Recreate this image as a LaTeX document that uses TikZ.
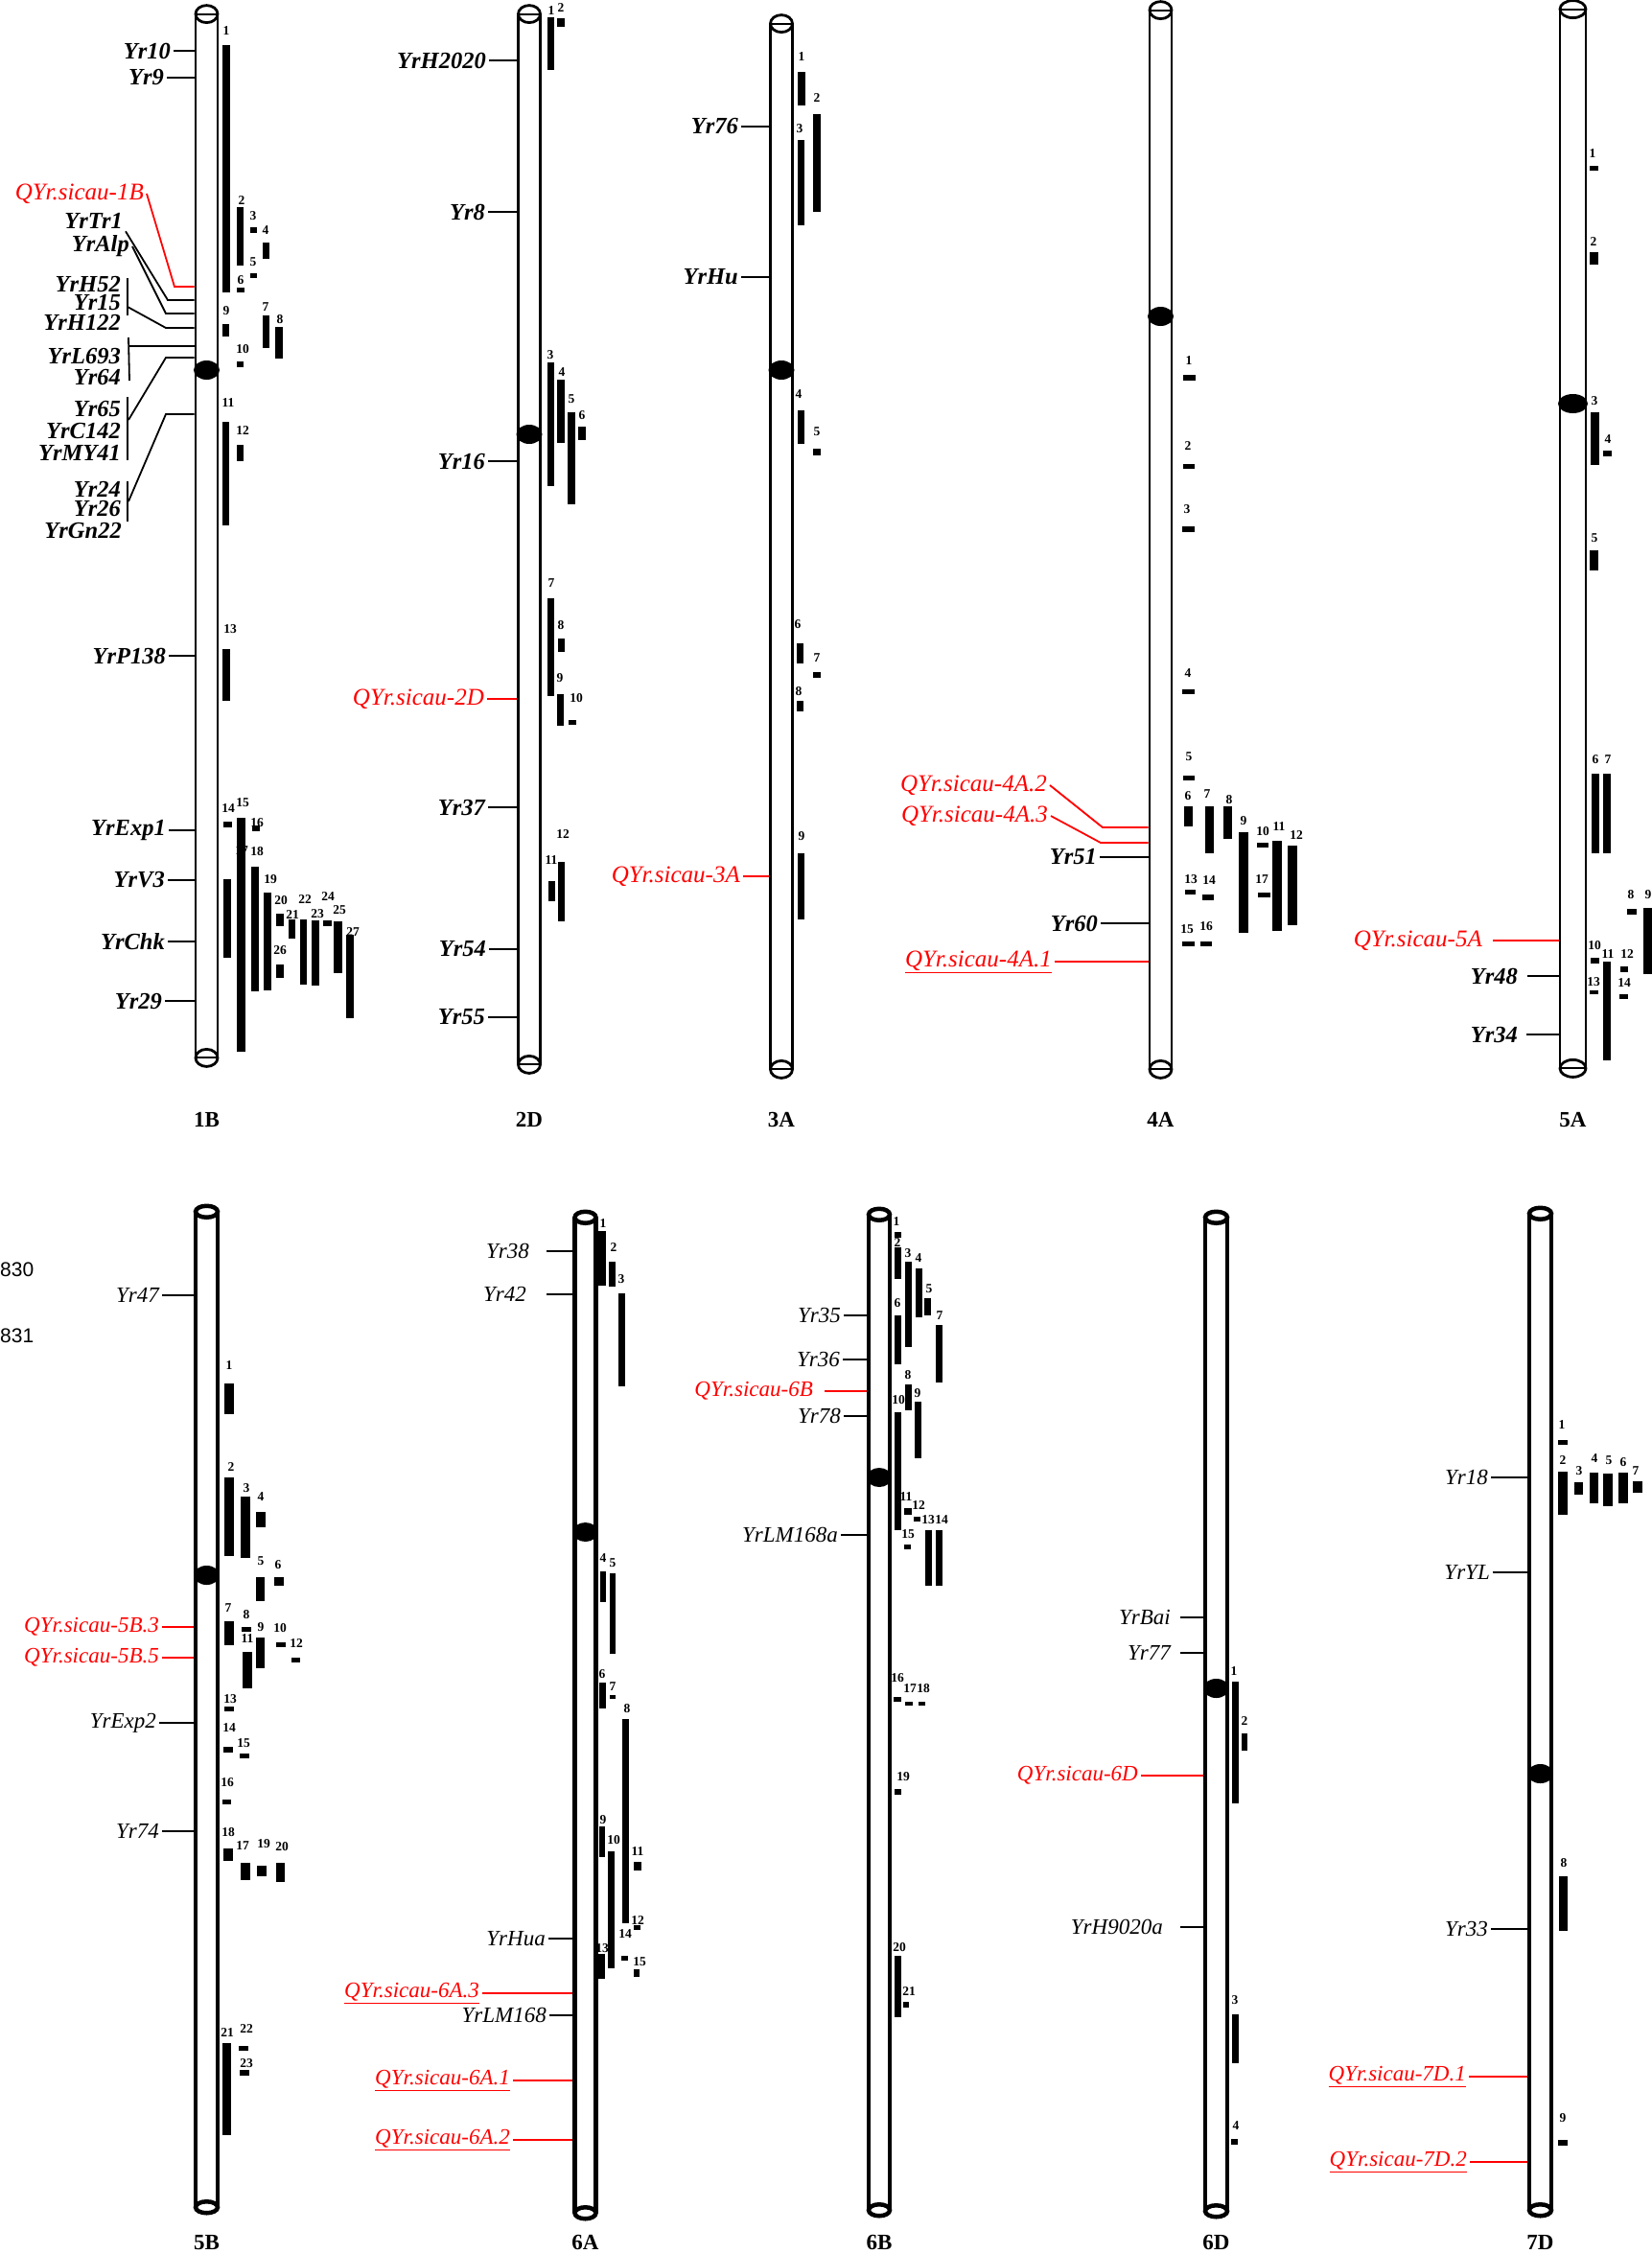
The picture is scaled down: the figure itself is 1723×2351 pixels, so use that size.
\documentclass[tikz,border=0pt]{standalone}
\usepackage{fontspec}
\setmainfont{Liberation Serif}
\newfontfamily\sansnum{Liberation Sans}

\begin{document}
\begin{tikzpicture}[
  x=1pt, y=-1pt,
  chromA/.style={draw, line width=2.8pt, fill=white, inner sep=0pt},
  chromB/.style={draw, line width=4.5pt, fill=white, inner sep=0pt},
  mk/.style={line width=1.8pt},
  mkB/.style={line width=1.5pt},
  qline/.style={draw=red, line width=1.8pt},
  gene/.style={anchor=east, inner sep=3pt, font=\fontsize{24.5}{26}\selectfont\bfseries\itshape},
  geneB/.style={anchor=east, inner sep=3pt, font=\fontsize{23}{25}\selectfont\itshape},
  qtl/.style={anchor=east, inner sep=3pt, text=red, font=\fontsize{25}{27}\selectfont\itshape},
  qtlB/.style={anchor=east, inner sep=3pt, text=red, font=\fontsize{23}{25}\selectfont\itshape},
  num/.style={inner sep=0pt, font=\fontsize{13.5}{14}\selectfont\bfseries},
  cname/.style={font=\fontsize{23}{24}\selectfont\bfseries},
]
\useasboundingbox (0,0) rectangle (1723,2351);

% chromosomes, upper row
\foreach \cn/\cx/\ct/\cb/\cm/\cw in {1B/215.5/16/1102/386/23, 2D/552/16/1109/453/23,
    3A/815/26/1114/386/23, 4A/1210.5/12/1114/330/23, 5A/1640.5/11/1113/421/27}{
  \pgfmathsetmacro\ch{\cb-\ct}
  \pgfmathsetmacro\cy{(\ct+\cb)/2}
  \node[chromA, minimum width=\cw, minimum height=\ch] (c\cn) at (\cx,\cy) {};
  \draw[chromA] (c\cn.north) ellipse [x radius=\cw/2, y radius=9];
  \draw[chromA] (c\cn.south) ellipse [x radius=\cw/2, y radius=9];
  \draw[line width=2pt] (c\cn.north west) -- (c\cn.north east) (c\cn.south west) -- (c\cn.south east);
  \fill (\cx,\cm) ellipse [x radius=\cw/2+2, y radius=10];
  \node[cname] (l\cn) at (\cx,1168) {\cn};
}

% chromosomes, lower row
\foreach \cn/\cx/\ct/\cb/\cm/\cw in {5B/215.5/1266/2300/1643/23, 6A/610.5/1272/2306/1598/22,
    6B/917/1269/2303/1541/22, 6D/1268.5/1272/2304/1761/23, 7D/1606.5/1268/2303/1850/23}{
  \pgfmathsetmacro\ch{\cb-\ct}
  \pgfmathsetmacro\cy{(\ct+\cb)/2}
  \node[chromB, minimum width=\cw, minimum height=\ch] (c\cn) at (\cx,\cy) {};
  \draw[chromB] (c\cn.north) ellipse [x radius=\cw/2, y radius=6];
  \draw[chromB] (c\cn.south) ellipse [x radius=\cw/2, y radius=6];
  \fill (\cx,\cm) ellipse [x radius=\cw/2+2, y radius=10];
  \node[cname] (l\cn) at (\cx,2339) {\cn};
}

\node[anchor=west, inner sep=0pt, font=\sansnum\fontsize{21}{22}\selectfont] (t830) at (0,1324) {830};
\node[anchor=west, inner sep=0pt, font=\sansnum\fontsize{21}{22}\selectfont] (t831) at (0,1393) {831};

% 1B markers
\node[gene] (yr10) at (181,53) {Yr10};
\node[gene] (yr9) at (174,81) {Yr9};
\draw[mk] (yr10) -- (yr10 -| c1B.west);
\draw[mk] (yr9) -- (yr9 -| c1B.west);

\node[qtl] (q1b) at (153,202) {QYr.sicau-1B};
\node[gene] (yrtr1) at (131,230) {YrTr1};
\node[gene] (yralp) at (138,257) {YrAlp};
\coordinate (k1) at (182,299);
\coordinate (k2) at (175,313);
\coordinate (k3) at (173,327);
\draw[qline] (q1b.east) -- (k1) -- (k1 -| c1B.west);
\draw[mk] (yrtr1.south east) -- (k2) -- (k2 -| c1B.west);
\draw[mk] (yralp.east) -- (k3) -- (k3 -| c1B.west);

\node[gene] (yrh52) at (129,297) {YrH52};
\node[gene] (yr15) at (129,316) {Yr15};
\node[gene] (yrh122) at (129,336) {YrH122};
\coordinate (g1t) at (133,290);
\coordinate (g1b) at (133,329);
\coordinate (g1m) at (133,320);
\coordinate (k4) at (173,342);
\draw[mk] (g1t) -- (g1b);
\draw[mk] (g1m) -- (k4) -- (k4 -| c1B.west);

\node[gene] (yrl693) at (129,372) {YrL693};
\node[gene] (yr64) at (129,394) {Yr64};
\coordinate (g2t) at (134,352);
\coordinate (g2b) at (135,397);
\coordinate (g2m) at (134,361);
\draw[mk] (g2t) -- (g2b);
\draw[mk] (g2m) -- (g2m -| c1B.west);

\node[gene] (yr65) at (129,427) {Yr65};
\node[gene] (yrc142) at (129,450) {YrC142};
\node[gene] (yrmy41) at (129,472) {YrMY41};
\coordinate (g3t) at (133,414);
\coordinate (g3b) at (133,480);
\coordinate (g3m) at (134,438);
\coordinate (k5) at (173,373);
\draw[mk] (g3t) -- (g3b);
\draw[mk] (g3m) -- (k5) -- (k5 -| c1B.west);

\node[gene] (yr24) at (129,510) {Yr24};
\node[gene] (yr26) at (129,531) {Yr26};
\node[gene] (yrgn22) at (130,553) {YrGn22};
\coordinate (g4t) at (133,502);
\coordinate (g4b) at (133,544);
\coordinate (g4m) at (134,523);
\coordinate (k6) at (173,432);
\draw[mk] (g4t) -- (g4b);
\draw[mk] (g4m) -- (k6) -- (k6 -| c1B.west);

\node[gene] (yrp138) at (176,684) {YrP138};
\node[gene] (yrexp1) at (176,866) {YrExp1};
\node[gene] (yrv3) at (175,918) {YrV3};
\node[gene] (yrchk) at (175,982) {YrChk};
\node[gene] (yr29) at (172,1044) {Yr29};
\draw[mk] (yrp138) -- (yrp138 -| c1B.west);
\draw[mk] (yrexp1) -- (yrexp1 -| c1B.west);
\draw[mk] (yrv3) -- (yrv3 -| c1B.west);
\draw[mk] (yrchk) -- (yrchk -| c1B.west);
\draw[mk] (yr29) -- (yr29 -| c1B.west);

% 2D markers
\node[gene] (yrh2020) at (510,63) {YrH2020};
\node[gene] (yr8) at (509,221) {Yr8};
\node[gene] (yr16) at (509,481) {Yr16};
\node[qtl] (q2d) at (508,729) {QYr.sicau-2D};
\node[gene] (yr37) at (509,842) {Yr37};
\node[gene] (yr54) at (510,990) {Yr54};
\node[gene] (yr55) at (509,1061) {Yr55};
\draw[mk] (yrh2020) -- (yrh2020 -| c2D.west);
\draw[mk] (yr8) -- (yr8 -| c2D.west);
\draw[mk] (yr16) -- (yr16 -| c2D.west);
\draw[qline] (q2d) -- (q2d -| c2D.west);
\draw[mk] (yr37) -- (yr37 -| c2D.west);
\draw[mk] (yr54) -- (yr54 -| c2D.west);
\draw[mk] (yr55) -- (yr55 -| c2D.west);

% 3A markers
\node[gene] (yr76) at (773,132) {Yr76};
\node[gene] (yrhu) at (773,289) {YrHu};
\node[qtl] (q3a) at (775,914) {QYr.sicau-3A};
\draw[mk] (yr76) -- (yr76 -| c3A.west);
\draw[mk] (yrhu) -- (yrhu -| c3A.west);
\draw[qline] (q3a) -- (q3a -| c3A.west);

% 4A markers
\node[qtl] (q4a2) at (1095,819) {QYr.sicau-4A.2};
\node[qtl] (q4a3) at (1096,851) {QYr.sicau-4A.3};
\coordinate (k7) at (1150,863);
\coordinate (k8) at (1148,879);
\draw[qline] (q4a2.east) -- (k7) -- (k7 -| c4A.west);
\draw[qline] (q4a3.east) -- (k8) -- (k8 -| c4A.west);
\node[gene] (yr51) at (1147,894) {Yr51};
\node[gene] (yr60) at (1148,963) {Yr60};
\node[qtl] (q4a1) at (1100,1003) {\underline{QYr.sicau-4A.1}};
\draw[mk] (yr51) -- (yr51 -| c4A.west);
\draw[mk] (yr60) -- (yr60 -| c4A.west);
\draw[qline] (q4a1) -- (q4a1 -| c4A.west);

% 5A markers
\node[qtl] (q5a) at (1549,981) {QYr.sicau-5A};
\node[gene] (yr48) at (1586,1018) {Yr48};
\node[gene] (yr34) at (1586,1079) {Yr34};
\draw[qline, shorten <=8] (q5a) -- (q5a -| c5A.west);
\draw[mk, shorten <=7] (yr48) -- (yr48 -| c5A.west);
\draw[mk, shorten <=6] (yr34) -- (yr34 -| c5A.west);

% 5B markers
\node[geneB] (yr47) at (169,1351) {Yr47};
\node[qtlB] (q5b3) at (169,1697) {QYr.sicau-5B.3};
\node[qtlB] (q5b5) at (169,1729) {QYr.sicau-5B.5};
\node[geneB] (yrexp2) at (166,1797) {YrExp2};
\node[geneB] (yr74) at (169,1910) {Yr74};
\draw[mkB] (yr47) -- (yr47 -| c5B.west);
\draw[qline] (q5b3) -- (q5b3 -| c5B.west);
\draw[qline] (q5b5) -- (q5b5 -| c5B.west);
\draw[mkB] (yrexp2) -- (yrexp2 -| c5B.west);
\draw[mkB] (yr74) -- (yr74 -| c5B.west);

% 6A markers
\node[geneB] (yr38) at (555,1305) {Yr38};
\node[geneB] (yr42) at (552,1350) {Yr42};
\node[geneB] (yrhua) at (572,2022) {YrHua};
\node[qtlB] (q6a3) at (503,2079) {\underline{QYr.sicau-6A.3}};
\node[geneB] (yrlm168) at (573,2102) {YrLM168};
\node[qtlB] (q6a1) at (535,2170) {\underline{QYr.sicau-6A.1}};
\node[qtlB] (q6a2) at (535,2232) {\underline{QYr.sicau-6A.2}};
\draw[mkB, shorten <=15] (yr38) -- (yr38 -| c6A.west);
\draw[mkB, shorten <=18] (yr42) -- (yr42 -| c6A.west);
\draw[mkB] (yrhua) -- (yrhua -| c6A.west);
\draw[qline] (q6a3) -- (q6a3 -| c6A.west);
\draw[mkB] (yrlm168) -- (yrlm168 -| c6A.west);
\draw[qline] (q6a1) -- (q6a1 -| c6A.west);
\draw[qline] (q6a2) -- (q6a2 -| c6A.west);

% 6B markers
\node[geneB] (yr35) at (880,1372) {Yr35};
\node[geneB] (yr36) at (879,1418) {Yr36};
\node[qtlB] (q6b) at (851,1451) {QYr.sicau-6B};
\node[geneB] (yr78) at (880,1477) {Yr78};
\node[geneB] (yrlm168a) at (877,1601) {YrLM168a};
\draw[mkB] (yr35) -- (yr35 -| c6B.west);
\draw[mkB] (yr36) -- (yr36 -| c6B.west);
\draw[qline, shorten <=9] (q6b) -- (q6b -| c6B.west);
\draw[mkB] (yr78) -- (yr78 -| c6B.west);
\draw[mkB] (yrlm168a) -- (yrlm168a -| c6B.west);

% 6D markers
\node[geneB] (yrbai) at (1224,1687) {YrBai};
\node[geneB] (yr77) at (1224,1724) {Yr77};
\node[qtlB] (q6d) at (1190,1852) {QYr.sicau-6D};
\node[geneB] (yrh9020a) at (1216,2010) {YrH9020a};
\draw[mkB, shorten <=7] (yrbai) -- (yrbai -| c6D.west);
\draw[mkB, shorten <=7] (yr77) -- (yr77 -| c6D.west);
\draw[qline] (q6d) -- (q6d -| c6D.west);
\draw[mkB, shorten <=15] (yrh9020a) -- (yrh9020a -| c6D.west);

% 7D markers
\node[geneB] (yr18) at (1555,1541) {Yr18};
\node[geneB] (yryl) at (1557,1640) {YrYL};
\node[geneB] (yr33) at (1555,2012) {Yr33};
\node[qtlB] (q7d1) at (1532,2166) {\underline{QYr.sicau-7D.1}};
\node[qtlB] (q7d2) at (1533,2255) {\underline{QYr.sicau-7D.2}};
\draw[mkB] (yr18) -- (yr18 -| c7D.west);
\draw[mkB] (yryl) -- (yryl -| c7D.west);
\draw[mkB] (yr33) -- (yr33 -| c7D.west);
\draw[qline] (q7d1) -- (q7d1 -| c7D.west);
\draw[qline] (q7d2) -- (q7d2 -| c7D.west);

% intervals: number / x1 / y1 / x2 / y2 / label x / label y
\foreach \nm/\xa/\ya/\xb/\yb/\lx/\ly in {1/232/47/240/305/236/32, 2/247/216/254/277/252/209,
    3/261/237/268/243/264/225, 4/274/253/281/270/277/240, 5/261/285/268/290/264/273,
    6/247/300/255/305/251/292, 7/274/329/281/363/277/320, 8/287/341/295/374/292/333,
    9/232/338/239/351/236/324, 10/247/377/254/383/253/364, 11/232/440/239/548/238/420,
    12/247/464/254/481/253/449, 13/232/677/240/731/240/656, 14/233/857/242/863/238/843,
    15/247/853/256/1097/253/837, 16/263/861/271/867/268/858, 17/233/917/241/999/252/887,
    18/262/904/270/1034/268/888, 19/275/931/283/1033/282/917, 20/288/953/296/966/293/939,
    21/301/959/308/979/305/954, 22/313/959/320/1027/318/938, 23/325/960/333/1028/331/953,
    24/337/960/346/966/342/935, 25/348/961/357/1015/354/949, 26/288/1006/296/1020/292/991,
    27/361/975/369/1062/368/972}{
  \node[num] (n1B-\nm) at (\lx,\ly) {\nm};
  \fill (\xa,\ya) rectangle (\xb,\yb);
}

\foreach \nm/\xa/\ya/\xb/\yb/\lx/\ly in {1/571/18/578/73/575/11, 2/581/19/589/28/585/8,
    3/571/378/578/507/574/370, 4/581/396/589/462/586/388, 5/592/430/600/526/596/416,
    6/603/445/611/459/607/433, 7/571/624/578/726/575/608, 8/582/666/589/680/585/652,
    9/581/724/588/757/584/707, 10/593/751/601/756/601/728, 11/572/919/579/940/575/897,
    12/582/899/589/961/587/870}{
  \node[num] (n2D-\nm) at (\lx,\ly) {\nm};
  \fill (\xa,\ya) rectangle (\xb,\yb);
}

\foreach \nm/\xa/\ya/\xb/\yb/\lx/\ly in {1/832/75/840/110/836/59, 2/848/119/856/221/852/102,
    3/832/146/839/235/834/134, 4/832/428/839/463/833/411, 5/848/468/856/475/852/450,
    6/831/671/838/692/832/651, 7/848/701/856/707/852/686, 8/831/731/838/742/833/721,
    9/832/890/839/959/836/872}{
  \node[num] (n3A-\nm) at (\lx,\ly) {\nm};
  \fill (\xa,\ya) rectangle (\xb,\yb);
}

\foreach \nm/\xa/\ya/\xb/\yb/\lx/\ly in {1/1234/391/1247/397/1240/376, 2/1234/484/1246/489/1239/465,
    3/1233/549/1246/555/1238/531, 4/1233/719/1246/724/1239/702, 5/1234/809/1246/814/1240/789,
    6/1235/841/1244/862/1239/830, 7/1257/841/1266/890/1259/828, 8/1276/841/1285/875/1282/834,
    9/1292/868/1302/973/1297/856, 10/1311/879/1323/884/1317/867, 11/1327/877/1337/971/1334/862,
    12/1343/882/1353/965/1352/871, 13/1236/928/1247/933/1242/917, 14/1254/933/1266/939/1261/918,
    15/1233/982/1246/987/1238/969, 16/1252/982/1264/987/1258/966, 17/1312/931/1325/936/1316/917}{
  \node[num] (n4A-\nm) at (\lx,\ly) {\nm};
  \fill (\xa,\ya) rectangle (\xb,\yb);
}

\foreach \nm/\xa/\ya/\xb/\yb/\lx/\ly in {1/1658/173/1667/178/1661/160, 2/1658/263/1667/276/1662/252,
    3/1659/430/1668/485/1663/418, 4/1672/470/1681/476/1677/458, 5/1658/574/1667/595/1663/561,
    6/1660/807/1668/890/1664/792, 7/1672/807/1680/890/1677/792, 8/1697/948/1707/954/1701/933,
    9/1714/947/1723/1016/1719/933, 10/1659/999/1668/1005/1663/986, 11/1672/1003/1680/1106/1677/995,
    12/1690/1008/1698/1014/1697/995, 13/1658/1033/1667/1037/1662/1024, 14/1689/1037/1698/1042/1694/1025}{
  \node[num] (n5A-\nm) at (\lx,\ly) {\nm};
  \fill (\xa,\ya) rectangle (\xb,\yb);
}

\foreach \nm/\xa/\ya/\xb/\yb/\lx/\ly in {1/234/1443/244/1475/239/1424, 2/234/1541/244/1623/241/1530,
    3/251/1561/261/1625/257/1552, 4/267/1577/277/1593/272/1561, 5/267/1645/276/1670/272/1628,
    6/286/1645/296/1654/290/1632, 7/234/1691/244/1716/238/1677, 8/252/1697/262/1702/257/1684,
    9/267/1708/276/1740/272/1697, 10/288/1713/298/1718/292/1698, 11/253/1723/263/1761/258/1709,
    12/304/1729/313/1734/309/1714, 13/234/1780/244/1785/240/1772, 14/233/1822/243/1828/239/1802,
    15/250/1829/260/1834/254/1818, 16/232/1877/241/1882/237/1859, 17/251/1943/261/1961/253/1925,
    18/233/1928/243/1941/238/1911, 19/268/1946/278/1957/275/1923, 20/288/1943/297/1963/294/1926,
    21/232/2131/241/2227/237/2120, 22/249/2134/259/2139/257/2116, 23/250/2159/260/2165/257/2152}{
  \node[num] (n5B-\nm) at (\lx,\ly) {\nm};
  \fill (\xa,\ya) rectangle (\xb,\yb);
}

\foreach \nm/\xa/\ya/\xb/\yb/\lx/\ly in {1/624/1284/632/1341/629/1276, 2/635/1316/642/1342/640/1301,
    3/645/1349/652/1446/648/1334, 4/626/1639/632/1671/629/1625, 5/636/1641/642/1725/639/1630,
    6/625/1755/632/1782/628/1746, 7/636/1768/642/1772/639/1759, 8/649/1793/656/2006/654/1782,
    9/625/1905/631/1937/629/1898, 10/634/1931/641/2053/640/1919, 11/661/1942/669/1951/665/1931,
    12/661/2008/668/2013/665/2003, 13/624/2038/631/2064/628/2032, 14/648/2040/655/2045/652/2017,
    15/661/2054/667/2062/667/2046}{
  \node[num] (n6A-\nm) at (\lx,\ly) {\nm};
  \fill (\xa,\ya) rectangle (\xb,\yb);
}

\foreach \nm/\xa/\ya/\xb/\yb/\lx/\ly in {1/933/1285/940/1291/935/1274, 2/933/1301/940/1334/936/1296,
    3/944/1316/951/1405/947/1307, 4/955/1323/962/1374/958/1312, 5/964/1354/971/1372/969/1344,
    6/933/1372/940/1423/936/1359, 7/976/1382/983/1442/980/1372, 8/944/1444/951/1471/947/1434,
    9/954/1462/961/1521/957/1453, 10/933/1473/940/1596/937/1460, 11/943/1573/951/1580/945/1561,
    12/953/1582/960/1587/958/1570, 13/965/1596/972/1654/968/1585, 14/976/1596/983/1654/982/1585,
    15/943/1611/950/1616/947/1600, 16/932/1770/940/1775/936/1750, 17/944/1775/952/1779/949/1761,
    18/958/1775/965/1779/963/1761, 19/933/1866/940/1872/942/1853, 20/933/2040/940/2104/938/2031,
    21/942/2088/948/2094/948/2077}{
  \node[num] (n6B-\nm) at (\lx,\ly) {\nm};
  \fill (\xa,\ya) rectangle (\xb,\yb);
}

\foreach \nm/\xa/\ya/\xb/\yb/\lx/\ly in {1/1285/1754/1292/1881/1287/1743, 2/1295/1808/1301/1826/1298/1795,
    3/1285/2101/1292/2152/1288/2086, 4/1284/2231/1291/2237/1289/2217}{
  \node[num] (n6D-\nm) at (\lx,\ly) {\nm};
  \fill (\xa,\ya) rectangle (\xb,\yb);
}

\foreach \nm/\xa/\ya/\xb/\yb/\lx/\ly in {1/1625/1502/1635/1507/1629/1486, 2/1625/1535/1635/1580/1630/1523,
    3/1642/1546/1651/1559/1647/1534, 4/1658/1536/1667/1568/1663/1521, 5/1672/1537/1682/1571/1678/1523,
    6/1688/1536/1698/1568/1693/1525, 7/1703/1545/1713/1557/1706/1534, 8/1626/1957/1635/2014/1631/1943,
    9/1625/2232/1635/2238/1630/2209}{
  \node[num] (n7D-\nm) at (\lx,\ly) {\nm};
  \fill (\xa,\ya) rectangle (\xb,\yb);
}
\end{tikzpicture}
\end{document}
